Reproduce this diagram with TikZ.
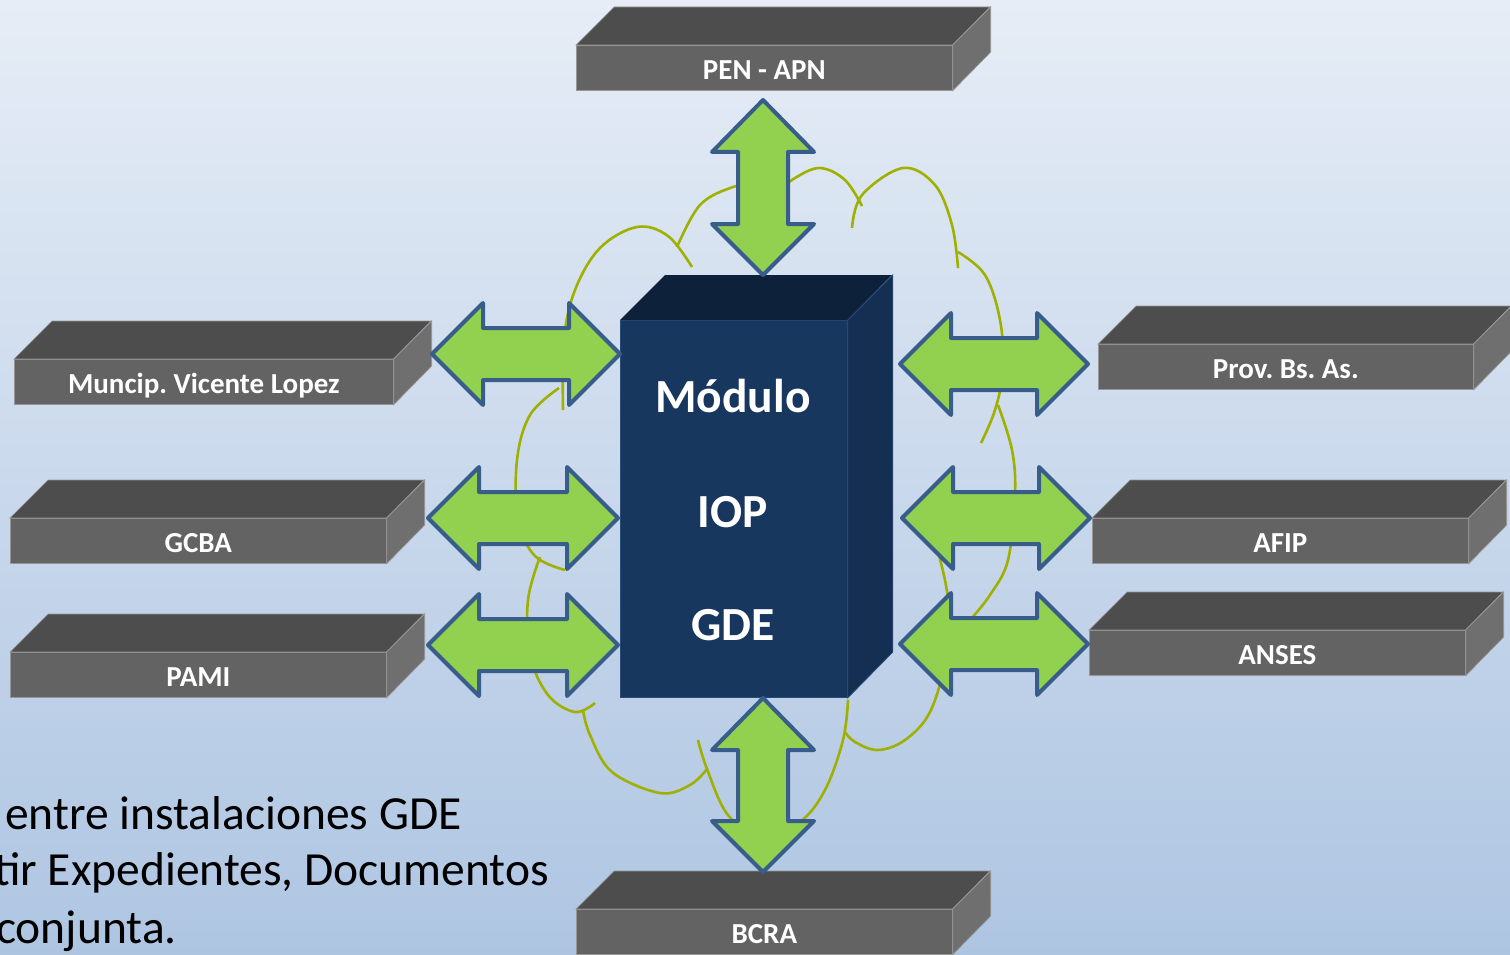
\documentclass[tikz,border=0pt]{standalone}
\usepackage{fontspec}
\setmainfont{Carlito}
\frenchspacing
\definecolor{bgtop}{RGB}{230,237,246}
\definecolor{bgbot}{RGB}{174,197,226}
\definecolor{slabtopc}{RGB}{77,77,77}
\definecolor{slabfrontc}{RGB}{99,99,99}
\definecolor{slabsidec}{RGB}{111,111,111}
\definecolor{slabedge}{RGB}{150,150,150}
\definecolor{cubefront}{RGB}{23,55,94}
\definecolor{cubetop}{RGB}{14,33,58}
\definecolor{cubeside}{RGB}{21,47,82}
\definecolor{arrfill}{RGB}{146,208,80}
\definecolor{arrline}{RGB}{56,93,138}
\definecolor{cloudc}{RGB}{160,176,0}
\tikzset{
  slabfront/.style={fill=slabfrontc, draw=slabedge, line width=0.7pt, inner sep=0pt,
    minimum height=45pt, text=white, text height=23pt, text depth=0pt,
    font=\fontsize{29}{34}\selectfont\bfseries},
  slabtop/.style={fill=slabtopc, draw=slabedge, line width=0.7pt},
  slabside/.style={fill=slabsidec, draw=slabedge, line width=0.7pt},
  blockarrow/.style={fill=arrfill, draw=arrline, line width=4pt, line join=round},
  cloudline/.style={draw=cloudc, line width=2.6pt},
  cubetext/.style={text=white, font=\fontsize{47.5}{56}\selectfont\bfseries, inner sep=0pt, anchor=base},
  bodytext/.style={text=black, font=\fontsize{47.5}{57}\selectfont, inner sep=0pt, anchor=base west}
}
\newcommand\mkslab[5]{%
  \node[slabfront, minimum width=#4, anchor=north west] (#1) at (#2,#3) {#5};
  \path[slabtop] (#1.north west) -- ++(38,-38) -- ++(#4,0) -- (#1.north east) -- cycle;
  \path[slabside] (#1.north east) -- ++(38,-38) -- ++(0,45) -- (#1.south east) -- cycle;
}
\newcommand\harr[4]{%
  \coordinate (#1-l) at (#2,#4);
  \coordinate (#1-r) at (#3,#4);
  \draw[blockarrow] (#1-l) -- ({#2+51},{#4-51}) -- ({#2+51},{#4-26}) -- ({#3-51},{#4-26})
    -- ({#3-51},{#4-51}) -- (#1-r) -- ({#3-51},{#4+51}) -- ({#3-51},{#4+26})
    -- ({#2+51},{#4+26}) -- ({#2+51},{#4+51}) -- cycle;
}
\newcommand\varr[4]{%
  \coordinate (#1-t) at (#2,#3);
  \coordinate (#1-b) at (#2,#4);
  \draw[blockarrow] (#1-t) -- ({#2+51},{#3+52}) -- ({#2+25},{#3+52}) -- ({#2+25},{#4-51})
    -- ({#2+51},{#4-51}) -- (#1-b) -- ({#2-51},{#4-51}) -- ({#2-25},{#4-51})
    -- ({#2-25},{#3+52}) -- ({#2-51},{#3+52}) -- cycle;
}
\begin{document}
\begin{tikzpicture}[x=1pt,y=-1pt]
\useasboundingbox (0,0) rectangle (1510,955);
\shade[top color=bgtop, bottom color=bgbot] (0,0) rectangle (1510,955);
\clip (0,0) rectangle (1510,955);

% cloud outline
\draw[cloudline] plot[smooth, tension=0.6] coordinates {(563,410) (564,340) (575,290) (600,248) (637,227) (668,236) (692,267)};
\draw[cloudline] plot[smooth, tension=0.6] coordinates {(677,247) (700,205) (733,187) (760,183)};
\draw[cloudline] plot[smooth, tension=0.6] coordinates {(778,192) (795,178) (820,168) (845,180) (862,206)};
\draw[cloudline] plot[smooth, tension=0.6] coordinates {(852,228) (862,195) (903,168) (935,185) (952,225) (958,268)};
\draw[cloudline] plot[smooth, tension=0.6] coordinates {(958,252) (985,275) (1000,320) (1003,370) (995,410) (981,443)};
\draw[cloudline] plot[smooth, tension=0.6] coordinates {(998,405) (1012,450) (1015,495) (1008,560) (990,595) (970,620)};
\draw[cloudline] plot[smooth, tension=0.6] coordinates {(937,548) (948,600) (945,660) (930,712) (905,740) (878,750) (855,742) (845,732)};
\draw[cloudline] plot[smooth, tension=0.6] coordinates {(848,700) (843,740) (825,790) (800,822) (763,838) (728,815) (707,769) (698,740)};
\draw[cloudline] plot[smooth, tension=0.6] coordinates {(583,710) (590,735) (612,772) (660,793) (690,785) (707,769)};
\draw[cloudline] plot[smooth, tension=0.6] coordinates {(540,557) (528,600) (530,655) (548,695) (575,712) (595,703)};
\draw[cloudline] plot[smooth, tension=0.6] coordinates {(559,388) (530,415) (517,460) (518,520) (535,556) (565,570)};

% slabs
\mkslab{pen}{576}{45}{376}{PEN - APN}
\mkslab{bcra}{576}{909}{376}{BCRA}
\mkslab{mvl}{14}{359}{379}{Muncip. Vicente Lopez}
\mkslab{gcba}{10}{518}{376}{GCBA}
\mkslab{pami}{10}{652}{376}{PAMI}
\mkslab{prov}{1098}{344}{375}{Prov. Bs. As.}
\mkslab{afip}{1092}{518}{376}{AFIP}
\mkslab{anses}{1089}{630}{376}{ANSES}

% central cube
\node[fill=cubefront, draw={rgb,255:red,40;green,75;blue,120}, line width=0.8pt, inner sep=0pt,
  minimum width=227, minimum height=377, anchor=north west] (iop) at (620,320) {};
\path[fill=cubetop] (iop.north west) -- ++(45,-45) -- ++(227,0) -- (iop.north east) -- cycle;
\path[fill=cubeside, draw={rgb,255:red,40;green,75;blue,120}, line width=0.8pt] (iop.north east) -- ++(45,-45) -- ++(0,377) -- (iop.south east) -- cycle;
\node[cubetext] (t1) at (733,412) {Módulo};
\node[cubetext] (t2) at (733,527) {IOP};
\node[cubetext] (t3) at (733,640) {GDE};

% arrows
\harr{a1}{432}{620}{354}
\harr{a2}{428}{618}{518}
\harr{a3}{428}{618}{645}
\harr{a4}{900}{1088}{364}
\harr{a5}{902}{1090}{518}
\harr{a6}{900}{1088}{644}
\varr{a7}{763}{100}{275}
\varr{a8}{763}{698}{872}

% body text
\node[bodytext] (b1) at (5,829) {entre instalaciones GDE};
\node[bodytext] (b2) at (-6,885) {tir Expedientes, Documentos};
\node[bodytext] (b3) at (-4,943) {conjunta.};
\end{tikzpicture}
\end{document}
